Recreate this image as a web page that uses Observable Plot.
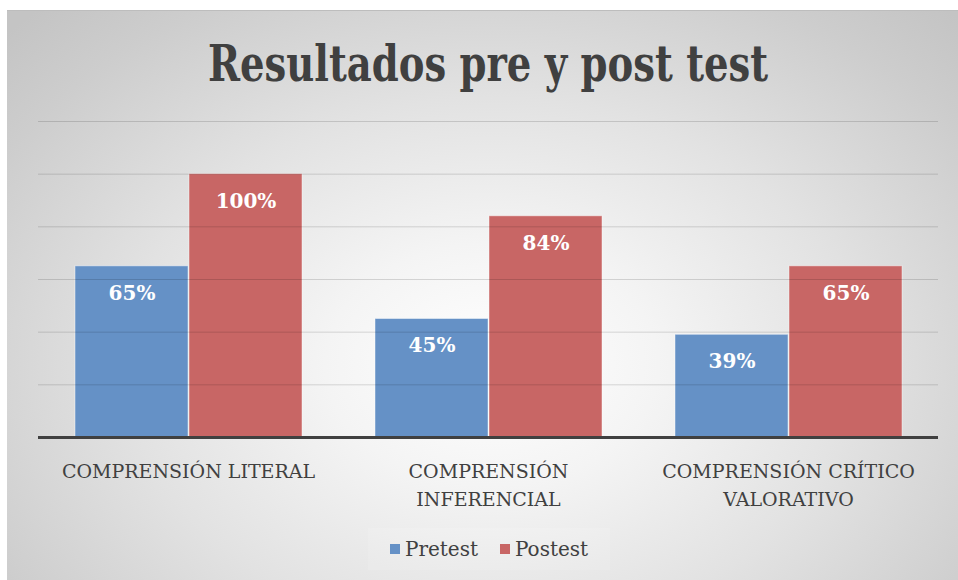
<!DOCTYPE html>
<html>
<head>
<meta charset="utf-8">
<script src="https://cdn.jsdelivr.net/npm/d3@7"></script>
<script src="https://cdn.jsdelivr.net/npm/@observablehq/plot@0.6"></script>
<style>
  html, body { margin: 0; padding: 0; background: #ffffff; }
  #chart {
    position: absolute; left: 7px; top: 10px; width: 951px; height: 570px;
    border-top: 1px solid #bdbdbd;
    background: radial-gradient(ellipse 70% 85% at 51% 62%, #ffffff 0%, #f4f4f4 25%, #e2e2e2 55%, #cdcdcd 85%, #c4c4c4 100%);
    font-family: "DejaVu Serif", serif;
    color: #404040;
  }
  #title { position: absolute; left: 0; top: 0; }
  #plot { position: absolute; left: 0; top: 89px; }
  #legend {
    position: absolute; left: 361px; top: 517px; width: 242px; height: 42px;
    display: flex; align-items: center; justify-content: center;
    background: rgba(255,255,255,0.12);
    font-family: "DejaVu Serif", serif;
    font-size: 20px; color: #404040;
  }
  .sw { display: inline-block; width: 10px; height: 10px; margin-right: 5px; }
</style>
</head>
<body>
<div id="chart">
  <svg id="title" width="951" height="88">
    <text x="481" y="70" text-anchor="middle" font-family="DejaVu Serif Condensed, DejaVu Serif, serif" font-weight="bold" font-size="50" fill="#404040" textLength="560" lengthAdjust="spacingAndGlyphs">Resultados pre y post test</text>
  </svg>
  <div id="plot"></div>
  <div id="legend"></div>
</div>
<script>
const categories = ["COMPRENSIÓN LITERAL", "COMPRENSIÓN INFERENCIAL", "COMPRENSIÓN CRÍTICO VALORATIVO"];
const categoryLabels = ["COMPRENSIÓN LITERAL", "COMPRENSIÓN\nINFERENCIAL", "COMPRENSIÓN CRÍTICO\nVALORATIVO"];
const series = ["Pretest", "Postest"];
const pretest = [65, 45, 39];
const postest = [100, 84, 65];
const colors = ["#6591c6", "#c86665"];
const gridValues = [20, 40, 60, 80, 100, 120];

const data = [];
categories.forEach((c, i) => {
  data.push({category: c, series: "Pretest", value: pretest[i]});
  data.push({category: c, series: "Postest", value: postest[i]});
});
const labelRows = categories.map((c, i) => ({category: c, label: categoryLabels[i]}));

const chart = Plot.plot({
  width: 951,
  height: 412,
  marginLeft: 31,
  marginRight: 20,
  marginTop: 21,
  marginBottom: 75,
  style: {background: "transparent", fontFamily: "DejaVu Serif, serif", color: "#404040", overflow: "visible"},
  fx: {domain: categories, padding: 0, axis: null},
  x: {domain: series, paddingInner: 0.01, paddingOuter: 0.32, axis: null},
  y: {domain: [0, 120], axis: null},
  color: {domain: series, range: colors},
  marks: [
    Plot.barY(data, {fx: "category", x: "series", y: "value", fill: "series", stroke: "#ffffff", strokeOpacity: 0.45, strokeWidth: 1}),
    Plot.ruleY(gridValues, {stroke: "#000000", strokeOpacity: 0.14, strokeWidth: 1}),
    Plot.ruleY([0], {stroke: "#404040", strokeWidth: 3}),
    Plot.text(data, {fx: "category", x: "series", y: "value", text: d => d.value + "%", dy: 27, fill: "#ffffff", fontSize: 20, fontWeight: "bold", fontFamily: "DejaVu Serif, serif"}),
    Plot.text(labelRows, {fx: "category", text: "label", frameAnchor: "bottom", lineAnchor: "top", dy: 21, lineHeight: 1.45, fontSize: 19, fill: "#404040", fontFamily: "DejaVu Serif, serif"})
  ]
});
document.getElementById("plot").appendChild(chart);

const legend = document.getElementById("legend");
series.forEach((s, i) => {
  const item = document.createElement("span");
  item.style.display = "inline-flex";
  item.style.alignItems = "center";
  item.style.margin = i === 0 ? "0 22px 0 0" : "0";
  const sw = document.createElement("span");
  sw.className = "sw";
  sw.style.background = colors[i];
  item.appendChild(sw);
  item.appendChild(document.createTextNode(s));
  legend.appendChild(item);
});
</script>
</body>
</html>
